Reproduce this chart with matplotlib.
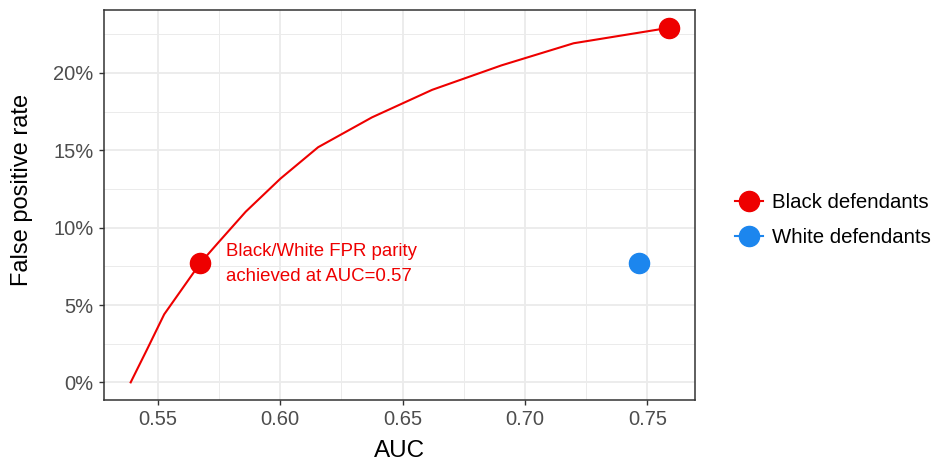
import numpy as np
import matplotlib
matplotlib.use("Agg")
import matplotlib.pyplot as plt
from matplotlib.ticker import MultipleLocator, PercentFormatter
from matplotlib.lines import Line2D

# curve of AUC vs false positive rate for black defendants
curve_auc = [0.5389, 0.5455, 0.5526, 0.5674, 0.5745, 0.5859, 0.6001,
             0.6155, 0.6375, 0.6621, 0.6904, 0.7199, 0.7593]
curve_fpr = [0.000, 0.021, 0.044, 0.0772, 0.090, 0.1103, 0.1317,
             0.152, 0.1713, 0.1891, 0.2049, 0.2192, 0.2293]

# highlighted points
black_auc = [0.5674, 0.7590]
black_fpr = [0.0772, 0.2293]
white_auc = [0.7465]
white_fpr = [0.0772]

parity_label = "Black/White FPR parity\nachieved at AUC=0.57"
legend_labels = ["Black defendants", "White defendants"]

red = "#EE0000"
blue = "#1C86EE"

plt.rcParams["font.family"] = ["Liberation Sans", "DejaVu Sans"]

fig = plt.figure(figsize=(9.35, 4.63), dpi=100)
ax = fig.add_axes([104 / 935, 1 - 400 / 463, (695 - 104) / 935, (400 - 10) / 463])

# grid like theme_bw
ax.xaxis.set_major_locator(MultipleLocator(0.05))
ax.xaxis.set_minor_locator(MultipleLocator(0.025))
ax.yaxis.set_major_locator(MultipleLocator(0.05))
ax.yaxis.set_minor_locator(MultipleLocator(0.025))
ax.grid(which="major", color="#EBEBEB", linewidth=1.3)
ax.grid(which="minor", color="#EBEBEB", linewidth=0.7)
ax.set_axisbelow(True)
ax.tick_params(which="minor", length=0)
ax.tick_params(which="major", length=3.5, width=1, color="#333333",
               labelsize=14.5, labelcolor="#4D4D4D", pad=4)
for s in ax.spines.values():
    s.set_color("#333333")
    s.set_linewidth(1.1)

ax.plot(curve_auc, curve_fpr, color=red, linewidth=1.5, zorder=2)
ax.plot(black_auc, black_fpr, "o", color=red, markersize=14.5, zorder=3)
ax.plot(white_auc, white_fpr, "o", color=blue, markersize=14.5, zorder=3)

ax.text(0.578, 0.0767, parity_label, color=red, fontsize=13.4,
        va="center", ha="left", linespacing=1.6)

ax.set_xlim(0.528, 0.7695)
ax.set_ylim(-0.0114, 0.2407)
ax.yaxis.set_major_formatter(PercentFormatter(xmax=1, decimals=0))
ax.xaxis.set_major_formatter(lambda v, p: f"{v:.2f}")

# axis titles
fig.text(400 / 935, 1 - 451 / 463, "AUC", fontsize=17.5, ha="center", va="center")
fig.text(22.5 / 935, 1 - 190 / 463, "False positive rate", fontsize=17,
         rotation=90, ha="center", va="center")

handles = [Line2D([], [], color=red, marker="o", markersize=14.5, linewidth=1.5),
           Line2D([], [], color=blue, marker="o", markersize=14.5, linewidth=1.5)]
fig.legend(handles, legend_labels, loc="center left",
           bbox_to_anchor=(727 / 935, 1 - 220 / 463), frameon=False,
           fontsize=14.7, handlelength=1.38, handletextpad=0.43,
           labelspacing=0.8, borderaxespad=0)

fig.savefig("out.png", dpi=100)
